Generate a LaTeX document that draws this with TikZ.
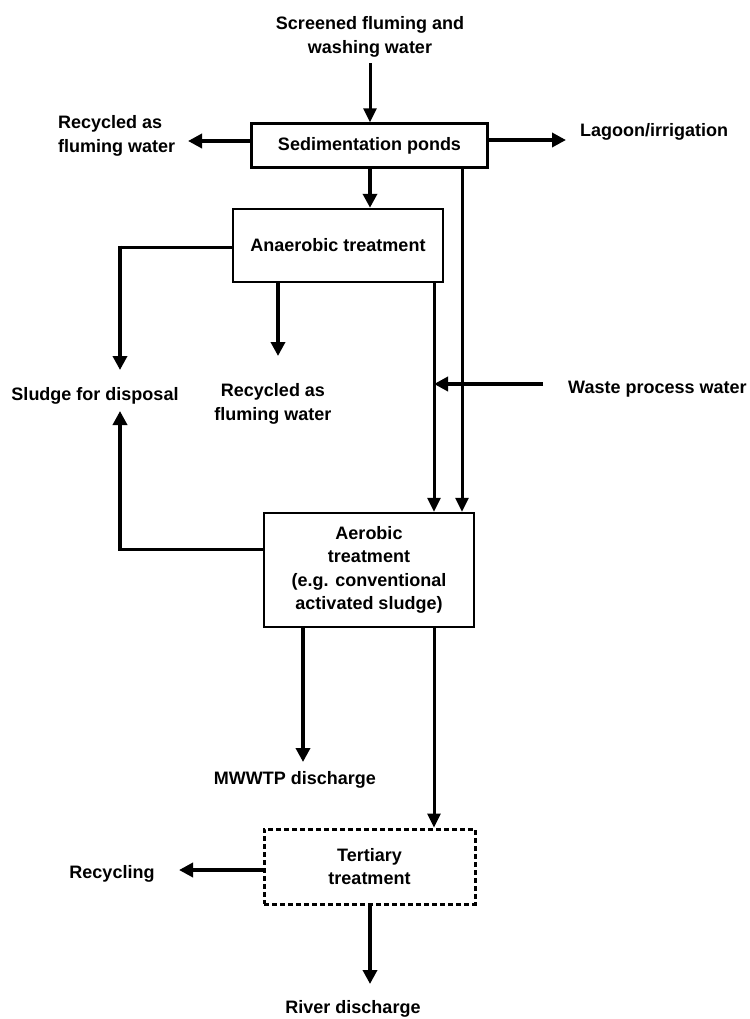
\documentclass[tikz,border=0pt]{standalone}
\usepackage{fontspec}
\setmainfont{Liberation Sans}
\usetikzlibrary{arrows.meta,calc}
\begin{document}
\begin{tikzpicture}[x=1bp,y=-1bp,
  every node/.style={font=\fontsize{18bp}{23.5bp}\selectfont\bfseries, align=center, inner sep=0pt},
  box/.style={draw, line width=2.5bp, minimum width=#1},
  flow/.style={line width=4bp, -{Triangle[length=14bp,width=14bp]}},
  thin flow/.style={line width=3bp, -{Triangle[length=14bp,width=13bp]}},
  plain/.style={line width=3bp}]
\useasboundingbox[fill=white] (0,0) rectangle (750,1019);

% process units
\node[box=236bp, minimum height=44bp] (sed) at (369.5,145.5) {Sedimentation ponds};
\node[box=210bp, minimum height=73bp] (anaer) at (338,245.5) {Anaerobic treatment};
\node[box=210bp, minimum height=114bp] (aer) at (369,570) {Aerobic\\treatment\\(e.g. conventional\\activated sludge)};
\node[box=211bp, minimum height=75bp, dash pattern=on 5bp off 3bp, line width=3bp] (tert) at (369.5,866.5) {Tertiary\\treatment};

% inlets and outlets
\node (src) at (370,37) {Screened fluming and\\washing water};
\node[anchor=west, align=left] (rec1) at (58,136) {Recycled as\\fluming water};
\node[anchor=west] (lagoon) at (580,132) {Lagoon/irrigation};
\node (sludge) at (95,396) {Sludge for disposal};
\node (rec2) at (273,404) {Recycled as\\fluming water};
\node[anchor=west] (waste) at (568,389) {Waste process water};
\node (mwwtp) at (295,780) {MWWTP discharge};
\node (recyc) at (112,874) {Recycling};
\node (river) at (353,1009) {River discharge};

% arrow ends and bends
\coordinate (srcTop) at (370,63);
\coordinate (recTip) at (188,141);
\coordinate (sedL) at (252,141);
\coordinate (sedR) at (488,140);
\coordinate (lagTip) at (566,140);
\coordinate (sedB) at (370,167);
\coordinate (sedB2) at (462,167);
\coordinate (anL) at (233,247);
\coordinate (slBend) at (120,247);
\coordinate (slTip) at (120,370);
\coordinate (anB) at (278,282);
\coordinate (rec2Tip) at (278,356);
\coordinate (anB2) at (434,282);
\coordinate (wStart) at (543,384);
\coordinate (wTip) at (434,384);
\coordinate (aerL) at (264,549);
\coordinate (slBend2) at (120,549);
\coordinate (slTip2) at (120,411);
\coordinate (aerB) at (303,627);
\coordinate (mwTip) at (303,762);
\coordinate (aerB2) at (434,627);
\coordinate (tertL) at (264,870);
\coordinate (recyTip) at (179,870);
\coordinate (tertB) at (370,904);
\coordinate (rivTip) at (370,984);

% connectors
\draw[thin flow] (srcTop) -- (srcTop |- sed.north);
\draw[flow] (sedL) -- (recTip);
\draw[flow] (sedR) -- (lagTip);
\draw[flow] (sedB) -- (sedB |- anaer.north);
\draw[thin flow] (sedB2) -- (sedB2 |- aer.north);
\draw[plain] (anL) -- (slBend);
\draw[flow] ([yshift=1.5bp]slBend) -- (slTip);
\draw[flow] (anB) -- (rec2Tip);
\draw[thin flow] (anB2) -- (anB2 |- aer.north);
\draw[flow] (wStart) -- (wTip);
\draw[plain] (aerL) -- (slBend2);
\draw[flow] ([yshift=-1.5bp]slBend2) -- (slTip2);
\draw[flow] (aerB) -- (mwTip);
\draw[thin flow] (aerB2) -- (aerB2 |- tert.north);
\draw[flow] (tertL) -- (recyTip);
\draw[flow] (tertB) -- (rivTip);
\end{tikzpicture}
\end{document}
